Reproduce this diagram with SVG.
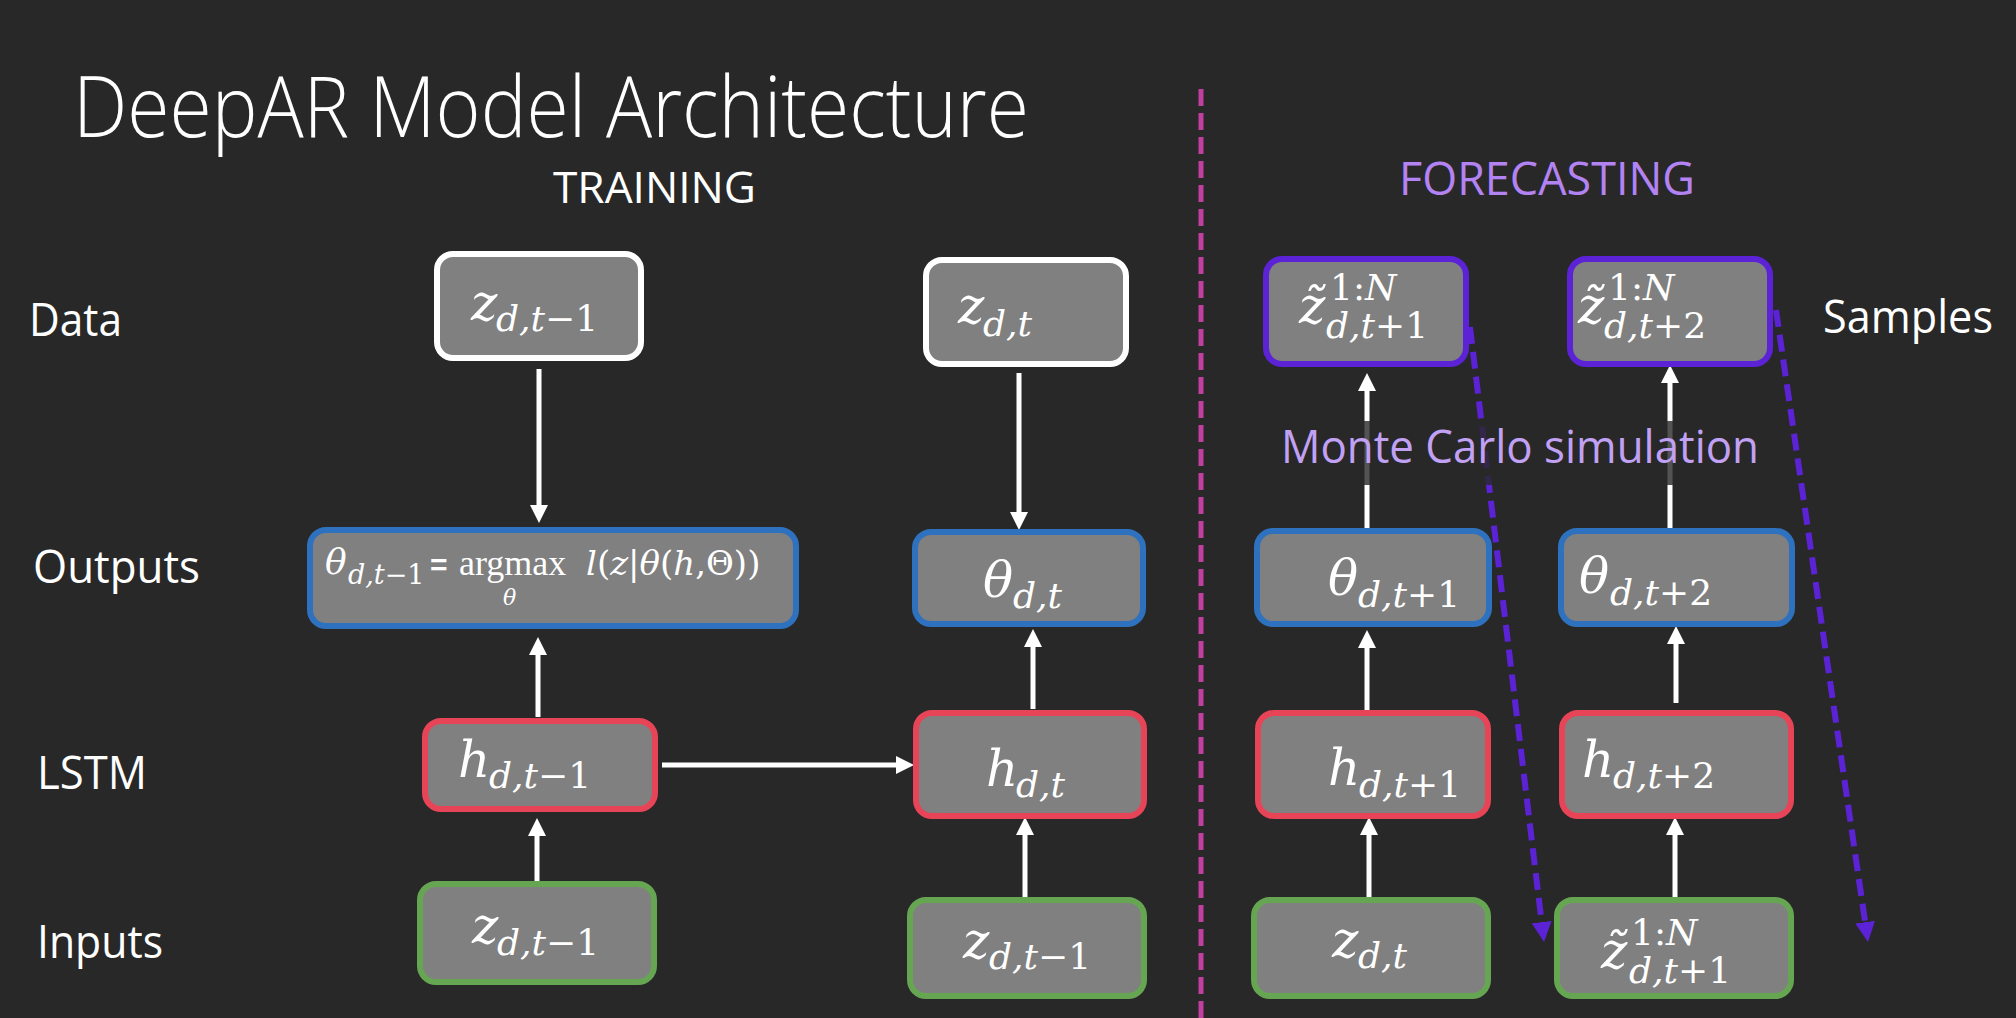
<svg xmlns="http://www.w3.org/2000/svg" width="2016" height="1018" viewBox="0 0 2016 1018">
<style>
.bg{fill:#282828}
.box{fill:#808080;stroke-width:6}
.wh{stroke:#ffffff}
.bl{stroke:#2e72bf}
.rd{stroke:#e84458}
.gr{stroke:#66a653}
.pu{stroke:#5c22d6}
.lbl{font-family:"Open Sans","Noto Sans",sans-serif;fill:#ffffff;font-size:46px}
.m{font-family:"DejaVu Serif",serif;fill:#ffffff;font-size:50px;font-style:italic}
.s{font-size:36px;font-style:normal}
.it{font-style:italic}
.f{font-family:"DejaVu Serif",serif;fill:#ffffff;font-size:34px}
.conn{stroke:#ffffff;stroke-width:5;fill:none}
.dash{stroke:#5c22d6;stroke-width:6;fill:none;stroke-dasharray:17 8}
</style>
<defs>
<marker id="aw" markerUnits="userSpaceOnUse" markerWidth="18" markerHeight="18" refX="6" refY="9" orient="auto"><path d="M0,0 L18,9 L0,18 z" fill="#ffffff"/></marker>
<marker id="ap" markerUnits="userSpaceOnUse" markerWidth="20" markerHeight="20" refX="8" refY="10" orient="auto"><path d="M0,0 L20,10 L0,20 z" fill="#5c22d6"/></marker>
</defs>
<rect class="bg" x="0" y="0" width="2016" height="1018"/>

<g id="titles">
<text x="73" y="137" font-family="'Open Sans','Noto Sans',sans-serif" font-weight="300" font-size="84" fill="#ffffff" textLength="956" lengthAdjust="spacingAndGlyphs">DeepAR Model Architecture</text>
<text x="553" y="203" font-family="'Open Sans','Noto Sans',sans-serif" font-size="43" fill="#ffffff" textLength="203" lengthAdjust="spacingAndGlyphs">TRAINING</text>
<text x="1399" y="195" font-family="'Open Sans','Noto Sans',sans-serif" font-size="45" fill="#b383f3" textLength="296" lengthAdjust="spacingAndGlyphs">FORECASTING</text>
</g>

<g id="row-labels">
<text class="lbl" x="29" y="336" textLength="93" lengthAdjust="spacingAndGlyphs">Data</text>
<text class="lbl" x="33" y="583" textLength="167" lengthAdjust="spacingAndGlyphs">Outputs</text>
<text class="lbl" x="37" y="789" textLength="110" lengthAdjust="spacingAndGlyphs">LSTM</text>
<text class="lbl" x="37" y="958" textLength="126" lengthAdjust="spacingAndGlyphs">Inputs</text>
<text class="lbl" x="1823" y="333" textLength="170" lengthAdjust="spacingAndGlyphs">Samples</text>
</g>

<g id="divider">
<line x1="1201" y1="89" x2="1201" y2="1018" stroke="#c13f9f" stroke-width="5" stroke-dasharray="17 7"/>
</g>

<g id="connectors">
<line class="conn" x1="539" y1="369" x2="539" y2="511" marker-end="url(#aw)"/>
<line class="conn" x1="1019" y1="373" x2="1019" y2="518" marker-end="url(#aw)"/>
<line class="conn" x1="538" y1="717" x2="538" y2="649" marker-end="url(#aw)"/>
<line class="conn" x1="1033" y1="709" x2="1033" y2="641" marker-end="url(#aw)"/>
<line class="conn" x1="537" y1="881" x2="537" y2="830" marker-end="url(#aw)"/>
<line class="conn" x1="1025" y1="897" x2="1025" y2="829" marker-end="url(#aw)"/>
<line class="conn" x1="662" y1="765" x2="902" y2="765" marker-end="url(#aw)"/>
<line class="conn" x1="1367" y1="528" x2="1367" y2="385" marker-end="url(#aw)"/>
<line class="conn" x1="1670" y1="529" x2="1670" y2="377" marker-end="url(#aw)"/>
<line class="conn" x1="1367" y1="710" x2="1367" y2="642" marker-end="url(#aw)"/>
<line class="conn" x1="1676" y1="703" x2="1676" y2="638" marker-end="url(#aw)"/>
<line class="conn" x1="1369" y1="897" x2="1369" y2="829" marker-end="url(#aw)"/>
<line class="conn" x1="1675" y1="897" x2="1675" y2="829" marker-end="url(#aw)"/>
<line class="dash" x1="1470" y1="327" x2="1542.6" y2="930.1" marker-end="url(#ap)"/>
<line class="dash" x1="1776" y1="310" x2="1866.3" y2="930.1" marker-end="url(#ap)"/>
</g>

<g id="mc-label">
<rect x="1272" y="421" width="495" height="64" fill="#282828" opacity="0.8"/>
<text x="1281" y="463" font-family="'Open Sans','Noto Sans',sans-serif" font-size="45" fill="#c1a1f4" textLength="478" lengthAdjust="spacingAndGlyphs">Monte Carlo simulation</text>
</g>

<!-- TRAINING column 1 -->
<g id="data-t-1">
<rect class="box wh" x="437" y="254" width="204" height="104" rx="16"/>
<text class="m"><tspan x="471" y="320">z</tspan><tspan class="s" x="496" y="331"><tspan class="it">d,t</tspan>−1</tspan></text>
</g>
<g id="out-t-1">
<rect class="box bl" x="310" y="530" width="486" height="96" rx="16"/>
<text class="f"><tspan class="it" x="325" y="574" font-size="36">θ</tspan><tspan x="348" y="584" font-size="27"><tspan class="it">d,t</tspan>−1</tspan></text>
<text x="430" y="575" font-family="'Liberation Sans',sans-serif" font-weight="bold" font-size="30" fill="#ffffff">=</text>
<text x="459" y="575" font-family="'Liberation Serif',serif" font-size="36" fill="#ffffff">argmax</text>
<text x="503" y="605" font-family="'DejaVu Serif',serif" font-style="italic" font-size="22" fill="#ffffff">θ</text>
<text class="f" x="586" y="575"><tspan class="it">l</tspan>(<tspan class="it">z</tspan>|<tspan class="it">θ</tspan>(<tspan class="it">h</tspan>,Θ))</text>
</g>
<g id="lstm-t-1">
<rect class="box rd" x="425" y="721" width="230" height="88" rx="16"/>
<text class="m"><tspan x="458" y="777">h</tspan><tspan class="s" x="489" y="788"><tspan class="it">d,t</tspan>−1</tspan></text>
</g>
<g id="in-t-1">
<rect class="box gr" x="420" y="884" width="234" height="98" rx="16"/>
<text class="m"><tspan x="472" y="943">z</tspan><tspan class="s" x="497" y="955"><tspan class="it">d,t</tspan>−1</tspan></text>
</g>

<!-- TRAINING column 2 -->
<g id="data-t">
<rect class="box wh" x="926" y="260" width="200" height="104" rx="16"/>
<text class="m"><tspan x="958" y="323">z</tspan><tspan class="s it" x="983" y="336">d,t</tspan></text>
</g>
<g id="out-t">
<rect class="box bl" x="915" y="532" width="228" height="92" rx="16"/>
<text class="m"><tspan x="983" y="597">θ</tspan><tspan class="s it" x="1013" y="608">d,t</tspan></text>
</g>
<g id="lstm-t">
<rect class="box rd" x="916" y="713" width="228" height="103" rx="16"/>
<text class="m"><tspan x="986" y="786">h</tspan><tspan class="s it" x="1016" y="797">d,t</tspan></text>
</g>
<g id="in-t">
<rect class="box gr" x="910" y="900" width="234" height="96" rx="16"/>
<text class="m"><tspan x="963" y="958">z</tspan><tspan class="s" x="989" y="969"><tspan class="it">d,t</tspan>−1</tspan></text>
</g>

<!-- FORECASTING column 1 -->
<g id="sample-t1">
<rect class="box pu" x="1266" y="259" width="200" height="105" rx="16"/>
<text class="m"><tspan x="1299" y="323">z̃</tspan><tspan class="s" x="1330" y="300" font-size="32">1:<tspan class="it">N</tspan></tspan><tspan class="s" x="1326" y="338"><tspan class="it">d,t</tspan>+1</tspan></text>
</g>
<g id="fout-t1">
<rect class="box bl" x="1257" y="531" width="232" height="93" rx="16"/>
<text class="m"><tspan x="1328" y="595">θ</tspan><tspan class="s" x="1358" y="607"><tspan class="it">d,t</tspan>+1</tspan></text>
</g>
<g id="flstm-t1">
<rect class="box rd" x="1258" y="713" width="230" height="103" rx="16"/>
<text class="m"><tspan x="1328" y="785">h</tspan><tspan class="s" x="1359" y="797"><tspan class="it">d,t</tspan>+1</tspan></text>
</g>
<g id="fin-t">
<rect class="box gr" x="1254" y="900" width="234" height="96" rx="16"/>
<text class="m"><tspan x="1332" y="957">z</tspan><tspan class="s it" x="1358" y="968">d,t</tspan></text>
</g>

<!-- FORECASTING column 2 -->
<g id="sample-t2">
<rect class="box pu" x="1570" y="259" width="200" height="105" rx="16"/>
<text class="m"><tspan x="1578" y="323">z̃</tspan><tspan class="s" x="1608" y="300" font-size="32">1:<tspan class="it">N</tspan></tspan><tspan class="s" x="1604" y="338"><tspan class="it">d,t</tspan>+2</tspan></text>
</g>
<g id="fout-t2">
<rect class="box bl" x="1561" y="531" width="231" height="93" rx="16"/>
<text class="m"><tspan x="1579" y="593">θ</tspan><tspan class="s" x="1610" y="605"><tspan class="it">d,t</tspan>+2</tspan></text>
</g>
<g id="flstm-t2">
<rect class="box rd" x="1562" y="713" width="229" height="103" rx="16"/>
<text class="m"><tspan x="1582" y="777">h</tspan><tspan class="s" x="1613" y="788"><tspan class="it">d,t</tspan>+2</tspan></text>
</g>
<g id="fin-t1">
<rect class="box gr" x="1557" y="900" width="234" height="96" rx="16"/>
<text class="m"><tspan x="1601" y="968">z̃</tspan><tspan class="s" x="1631" y="945" font-size="32">1:<tspan class="it">N</tspan></tspan><tspan class="s" x="1629" y="983"><tspan class="it">d,t</tspan>+1</tspan></text>
</g>
</svg>
